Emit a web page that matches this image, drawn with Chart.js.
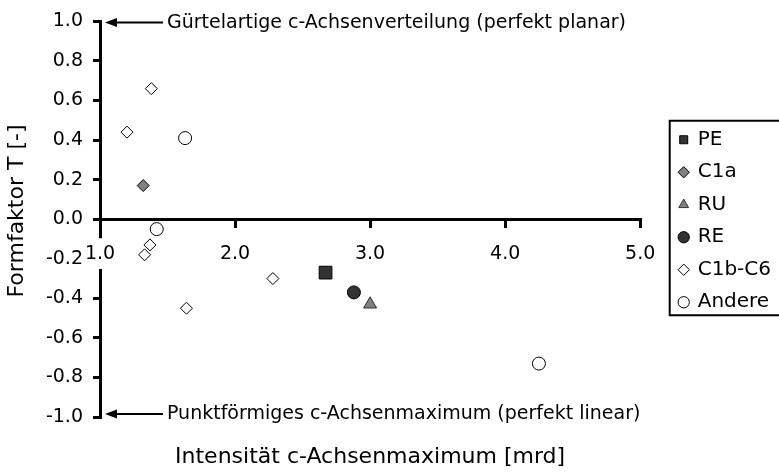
<!DOCTYPE html>
<html>
<head>
<meta charset="utf-8">
<script src="https://cdn.jsdelivr.net/npm/chart.js@4.4.0/dist/chart.umd.min.js"></script>
<style>
  html, body { margin: 0; padding: 0; background: #fff; }
  #wrap { width: 779px; height: 472px; }
</style>
</head>
<body>
<div id="wrap"><canvas id="scatter-chartcanvas"></canvas></div>
<script>
// x = Intensität c-Achsenmaximum [mrd], y = Formfaktor T [-]
var peX = [2.67], peY = [-0.27];
var c1aX = [1.32], c1aY = [0.17];
var ruX = [3.0], ruY = [-0.43];
var reX = [2.88], reY = [-0.37];
var c1bX = [1.38, 1.20, 1.37, 1.33, 1.64, 2.28];
var c1bY = [0.66, 0.44, -0.13, -0.18, -0.45, -0.30];
var andereX = [1.63, 1.42, 4.25];
var andereY = [0.41, -0.05, -0.73];

var xTitle = 'Intensität c-Achsenmaximum [mrd]';
var yTitle = 'Formfaktor T [-]';
var topNote = 'Gürtelartige c-Achsenverteilung (perfekt planar)';
var bottomNote = 'Punktförmiges c-Achsenmaximum (perfekt linear)';

var FONT = "'DejaVu Sans', sans-serif";

function toPoints(xs, ys) {
  return xs.map(function (x, i) { return { x: x, y: ys[i] }; });
}

Chart.defaults.font.family = FONT;
Chart.defaults.color = '#000';

// arrows + notes at T = 1.0 and T = -1.0, axis titles, legend frame
var notesPlugin = {
  id: 'notes',
  afterDraw: function (chart) {
    var ctx = chart.ctx, y = chart.scales.y, area = chart.chartArea;
    function arrow(py, base, text) {
      var tip = area.left + 5;
      ctx.save();
      ctx.strokeStyle = '#000';
      ctx.fillStyle = '#000';
      ctx.lineWidth = 2;
      ctx.beginPath();
      ctx.moveTo(tip + 8, py);
      ctx.lineTo(163, py);
      ctx.stroke();
      ctx.beginPath();
      ctx.moveTo(tip, py);
      ctx.lineTo(tip + 12, py - 4.5);
      ctx.lineTo(tip + 12, py + 4.5);
      ctx.closePath();
      ctx.fill();
      ctx.font = '19px ' + FONT;
      ctx.textBaseline = 'alphabetic';
      ctx.textAlign = 'left';
      ctx.fillText(text, 167, base);
      ctx.restore();
    }
    arrow(y.getPixelForValue(1) + 1, 27.5, topNote);
    arrow(y.getPixelForValue(-1) - 3, 419, bottomNote);

    ctx.save();
    ctx.font = '22px ' + FONT;
    ctx.fillStyle = '#000';
    ctx.textBaseline = 'alphabetic';
    ctx.textAlign = 'center';
    ctx.fillText(xTitle, (area.left + area.right) / 2, 463);
    ctx.translate(17, 211);
    ctx.rotate(-Math.PI / 2);
    ctx.textBaseline = 'middle';
    ctx.fillText(yTitle, 0, 0);
    ctx.restore();

    var boxes = chart.legend.legendHitBoxes;
    if (boxes && boxes.length) {
      var first = boxes[0], last = boxes[boxes.length - 1];
      var left = first.left - 10;
      var top = first.top - 9;
      var bottom = last.top + last.height + 3;
      ctx.save();
      ctx.strokeStyle = '#000';
      ctx.lineWidth = 2;
      ctx.strokeRect(left, top, chart.width + 10 - left, bottom - top);
      ctx.restore();
    }
  }
};

var ctx = document.getElementById('scatter-chartcanvas').getContext('2d');

var chart1 = new Chart(ctx, {
  type: 'scatter',
  data: {
    datasets: [
      { label: 'PE', data: toPoints(peX, peY), pointStyle: 'rect', pointRadius: 9,
        backgroundColor: '#333333', borderColor: '#000', borderWidth: 1 },
      { label: 'C1a', data: toPoints(c1aX, c1aY), pointStyle: 'rectRot', pointRadius: 6,
        backgroundColor: '#808080', borderColor: '#000', borderWidth: 1 },
      { label: 'RU', data: toPoints(ruX, ruY), pointStyle: 'triangle', pointRadius: 7.5,
        backgroundColor: '#808080', borderColor: '#333', borderWidth: 1 },
      { label: 'RE', data: toPoints(reX, reY), pointStyle: 'circle', pointRadius: 6.5,
        backgroundColor: '#333333', borderColor: '#000', borderWidth: 1 },
      { label: 'C1b-C6', data: toPoints(c1bX, c1bY), pointStyle: 'rectRot', pointRadius: 6,
        backgroundColor: '#fff', borderColor: '#000', borderWidth: 1 },
      { label: 'Andere', data: toPoints(andereX, andereY), pointStyle: 'circle', pointRadius: 6.5,
        backgroundColor: '#fff', borderColor: '#000', borderWidth: 1 }
    ]
  },
  options: {
    responsive: true,
    maintainAspectRatio: false,
    animation: false,
    devicePixelRatio: 1,
    layout: { padding: { top: 19, bottom: 55, left: 0, right: -2 } },
    plugins: {
      tooltip: { enabled: false },
      legend: {
        position: 'right',
        title: { display: true, text: ' ', font: { size: 5 }, padding: 0 },
        labels: {
          usePointStyle: true,
          boxWidth: 8,
          boxHeight: 8,
          padding: 12.5,
          color: '#000',
          font: { size: 20, family: FONT }
        }
      }
    },
    scales: {
      x: {
        type: 'linear',
        position: { y: 0 },
        min: 1, max: 5,
        border: { color: '#000', width: 3 },
        grid: { drawOnChartArea: false, color: '#000', lineWidth: 3, tickLength: 7 },
        ticks: {
          stepSize: 1, padding: 16, z: 1,
          font: { size: 19 }, color: '#000',
          showLabelBackdrop: true, backdropColor: '#fff',
          backdropPadding: { top: 4, bottom: 4, left: 1, right: 1 },
          callback: function (v) { return (Math.round(v * 10) / 10).toFixed(1); }
        }
      },
      y: {
        type: 'linear',
        position: 'left',
        min: -1, max: 1,
        border: { color: '#000', width: 3 },
        grid: { drawOnChartArea: false, color: '#000', lineWidth: 3, tickLength: 7 },
        ticks: {
          stepSize: 0.2, padding: 10,
          font: { size: 19 }, color: '#000',
          callback: function (v) { return (Math.round(v * 10) / 10).toFixed(1); }
        },
        afterFit: function (s) { s.width = 100; }
      },
      gap: {
        type: 'linear',
        axis: 'y',
        position: 'right',
        display: true,
        border: { display: false },
        grid: { display: false },
        ticks: { display: false },
        afterFit: function (s) { s.width = 27; }
      }
    }
  },
  plugins: [notesPlugin]
});
</script>
</body>
</html>
